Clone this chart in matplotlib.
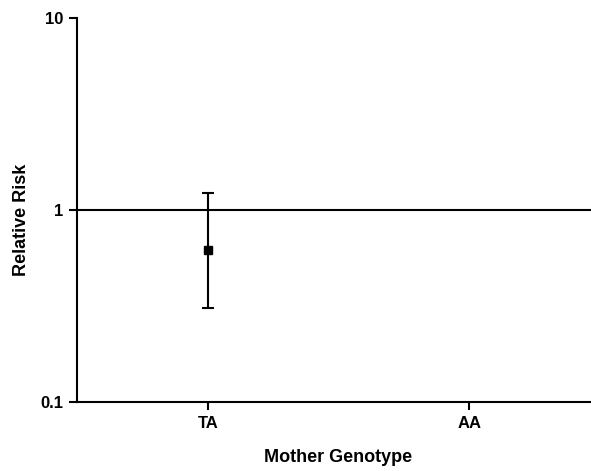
import numpy as np
import matplotlib
matplotlib.use("Agg")
import matplotlib.pyplot as plt
from matplotlib.ticker import FixedLocator, FixedFormatter, NullLocator

plt.rcParams['font.family'] = ['Liberation Sans', 'DejaVu Sans']
plt.rcParams['font.weight'] = 'bold'

# Relative risk by mother genotype (point estimate with 95% CI)
genotypes = ["TA", "AA"]
risk = [0.62, np.nan]
ci_low = [0.31, np.nan]
ci_high = [1.22, np.nan]
y_ticks = [0.1, 1, 10]
y_tick_labels = ["0.1", "1", "10"]

fig = plt.figure(figsize=(5.91, 4.71), dpi=100)
ax = fig.add_axes([77 / 591, 69 / 471, 523 / 591, 384 / 471])

x = np.arange(len(genotypes))
risk_arr = np.array(risk)
err = np.vstack([risk_arr - np.array(ci_low), np.array(ci_high) - risk_arr])

ax.axhline(1, color="black", lw=1.5, zorder=1)
ax.errorbar(x, risk_arr, yerr=err, fmt="s", color="black", ms=6,
            ecolor="black", elinewidth=1.5, capsize=4.5, capthick=1.5, zorder=3)

ax.set_yscale("log")
ax.set_ylim(0.1, 10)
ax.set_xlim(-0.5, 1.5)
ax.yaxis.set_major_locator(FixedLocator(y_ticks))
ax.yaxis.set_major_formatter(FixedFormatter(y_tick_labels))
ax.yaxis.set_minor_locator(NullLocator())
ax.set_xticks(x)
ax.set_xticklabels(genotypes)

for side in ("top", "right"):
    ax.spines[side].set_visible(False)
for side in ("left", "bottom"):
    ax.spines[side].set_linewidth(1.5)

ax.tick_params(axis="both", which="major", direction="out", length=6,
               width=1.5, labelsize=12, pad=4)

ax.set_xlabel("Mother Genotype", fontsize=13, fontweight="bold", labelpad=13)
ax.set_ylabel("Relative Risk", fontsize=13, fontweight="bold", labelpad=7)
ax.yaxis.label.set_y(0.474)

fig.savefig("out.png", dpi=100)
